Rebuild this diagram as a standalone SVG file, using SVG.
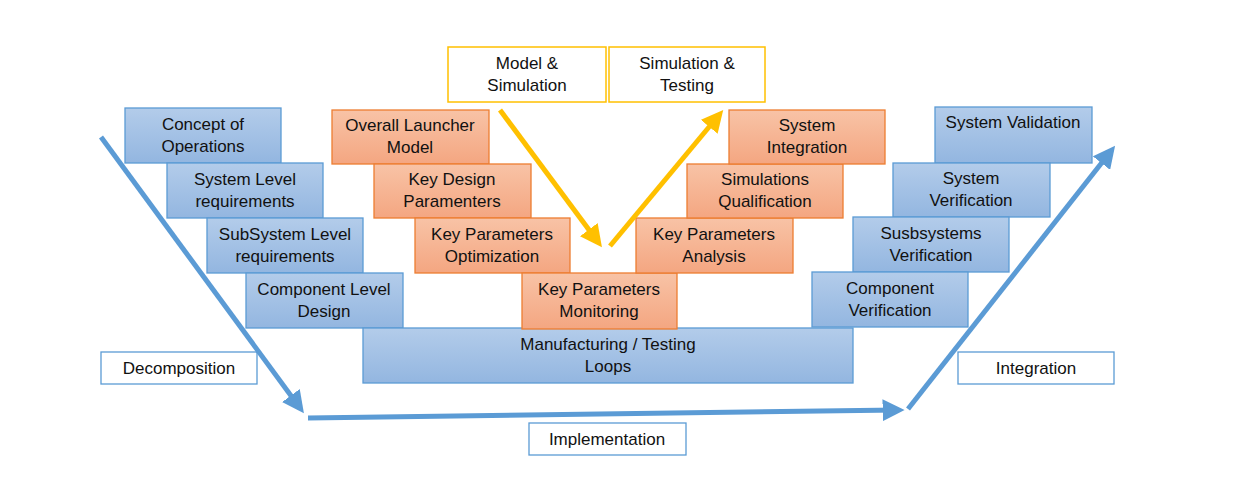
<svg xmlns="http://www.w3.org/2000/svg" width="1233" height="480" viewBox="0 0 1233 480">
<defs>
<linearGradient id="gb" x1="0" y1="0" x2="0" y2="1"><stop offset="0" stop-color="#B3CCEA"/><stop offset="1" stop-color="#93B6E0"/></linearGradient>
<linearGradient id="go" x1="0" y1="0" x2="0" y2="1"><stop offset="0" stop-color="#F8C3A6"/><stop offset="1" stop-color="#F4A681"/></linearGradient>
<marker id="ab" viewBox="0 0 10 10" refX="7" refY="5" markerWidth="4.4" markerHeight="4.4" orient="auto" markerUnits="strokeWidth"><path d="M0,0 L10,5 L0,10 z" fill="#5B9BD5"/></marker>
<marker id="ay" viewBox="0 0 10 10" refX="7" refY="5" markerWidth="4.4" markerHeight="4.4" orient="auto" markerUnits="strokeWidth"><path d="M0,0 L10,5 L0,10 z" fill="#FFC000"/></marker>
</defs>
<style>
.b{fill:url(#gb);stroke:#5B9BD5;stroke-width:1.3}
.o{fill:url(#go);stroke:#ED7D31;stroke-width:1.3}
.w{fill:#fff;stroke:#5B9BD5;stroke-width:1.3}
.y{fill:#fff;stroke:#FFC000;stroke-width:1.5}
text{font-family:"Liberation Sans",Arial,sans-serif;font-size:17px;fill:#111;text-anchor:middle}
.cb{fill:none;stroke:#5B9BD5;stroke-width:5}
.cy{fill:none;stroke:#FFC000;stroke-width:5}
</style>
<rect width="1233" height="480" fill="#fff"/>
<g id="n-concept"><rect class="b" x="125" y="108" width="156" height="55"/><text x="203" y="130">Concept of</text><text x="203" y="152">Operations</text></g>
<g id="n-syslevel"><rect class="b" x="167" y="163" width="156" height="55"/><text x="245" y="185">System Level</text><text x="245" y="207">requirements</text></g>
<g id="n-subsys"><rect class="b" x="207" y="218" width="156" height="55"/><text x="285" y="240">SubSystem Level</text><text x="285" y="262">requirements</text></g>
<g id="n-comp"><rect class="b" x="246" y="273" width="157" height="55"/><text x="324" y="295">Component Level</text><text x="324" y="317">Design</text></g>
<g id="n-manuf"><rect class="b" x="363" y="328" width="490" height="55"/><text x="608" y="350">Manufacturing / Testing</text><text x="608" y="372">Loops</text></g>
<g id="n-model"><rect class="y" x="448" y="47" width="158" height="55"/><text x="527" y="69">Model &amp;</text><text x="527" y="91">Simulation</text></g>
<g id="n-simtest"><rect class="y" x="609" y="47" width="156" height="55"/><text x="687" y="69">Simulation &amp;</text><text x="687" y="91">Testing</text></g>
<g id="n-overall"><rect class="o" x="332" y="110" width="157" height="54"/><text x="410" y="131">Overall Launcher</text><text x="410" y="153">Model</text></g>
<g id="n-keydesign"><rect class="o" x="374" y="164" width="157" height="54"/><text x="452" y="185">Key Design</text><text x="452" y="207">Paramenters</text></g>
<g id="n-keyopt"><rect class="o" x="415" y="218" width="155" height="55"/><text x="492" y="240">Key Parameters</text><text x="492" y="262">Optimization</text></g>
<g id="n-keymon"><rect class="o" x="522" y="273" width="155" height="56"/><text x="599" y="295">Key Parameters</text><text x="599" y="317">Monitoring</text></g>
<g id="n-keyana"><rect class="o" x="636" y="218" width="157" height="55"/><text x="714" y="240">Key Parameters</text><text x="714" y="262">Analysis</text></g>
<g id="n-simqual"><rect class="o" x="687" y="164" width="156" height="54"/><text x="765" y="185">Simulations</text><text x="765" y="207">Qualification</text></g>
<g id="n-sysint"><rect class="o" x="729" y="110" width="156" height="54"/><text x="807" y="131">System</text><text x="807" y="153">Integration</text></g>
<g id="n-sysval"><rect class="b" x="935" y="107" width="157" height="56"/><text x="1013" y="128">System Validation</text></g>
<g id="n-sysver"><rect class="b" x="893" y="163" width="157" height="54"/><text x="971" y="184">System</text><text x="971" y="206">Verification</text></g>
<g id="n-subver"><rect class="b" x="853" y="217" width="156" height="55"/><text x="931" y="239">Susbsystems</text><text x="931" y="261">Verification</text></g>
<g id="n-compver"><rect class="b" x="812" y="272" width="156" height="55"/><text x="890" y="294">Component</text><text x="890" y="316">Verification</text></g>
<g id="n-decomp"><rect class="w" x="101" y="352" width="156" height="32"/><text x="179" y="374">Decomposition</text></g>
<g id="n-impl"><rect class="w" x="529" y="423" width="157" height="32"/><text x="607" y="445">Implementation</text></g>
<g id="n-integ"><rect class="w" x="958" y="352" width="156" height="32"/><text x="1036" y="374">Integration</text></g>
<g id="connectors">
<path class="cb" d="M101,137 L300,408" marker-end="url(#ab)"/>
<path class="cb" d="M308,418 L898,410" marker-end="url(#ab)"/>
<path class="cb" d="M908,409 L1111,151" marker-end="url(#ab)"/>
<path class="cy" d="M500,110 L598,242" marker-end="url(#ay)"/>
<path class="cy" d="M610,246 L719,115" marker-end="url(#ay)"/>
</g>
</svg>
